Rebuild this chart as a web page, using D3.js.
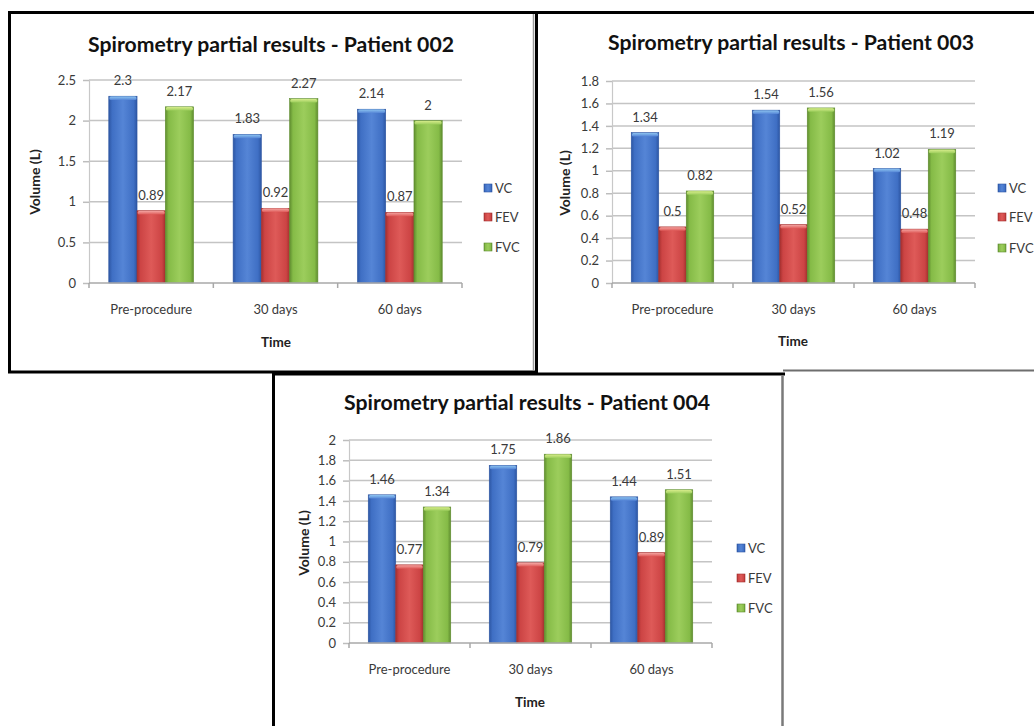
<!DOCTYPE html>
<html>
<head>
<meta charset="utf-8">
<script src="https://cdn.jsdelivr.net/npm/d3@7"></script>
<style>
  html, body { margin: 0; padding: 0; background: #ffffff; }
  svg { display: block; }
  text { font-family: Lato, "Open Sans", "DejaVu Sans", sans-serif; }
</style>
</head>
<body>
<svg id="chart" width="1034" height="726"></svg>
<script>
// ---- data -------------------------------------------------------------
const categories = ["Pre-procedure", "30 days", "60 days"];
const seriesNames = ["VC", "FEV", "FVC"];

const p002VC  = [2.3, 1.83, 2.14];
const p002FEV = [0.89, 0.92, 0.87];
const p002FVC = [2.17, 2.27, 2];

const p003VC  = [1.34, 1.54, 1.02];
const p003FEV = [0.5, 0.52, 0.48];
const p003FVC = [0.82, 1.56, 1.19];

const p004VC  = [1.46, 1.75, 1.44];
const p004FEV = [0.77, 0.79, 0.89];
const p004FVC = [1.34, 1.86, 1.51];

const ticks002 = [0, 0.5, 1, 1.5, 2, 2.5];
const ticks003 = [0, 0.2, 0.4, 0.6, 0.8, 1, 1.2, 1.4, 1.6, 1.8];
const ticks004 = [0, 0.2, 0.4, 0.6, 0.8, 1, 1.2, 1.4, 1.6, 1.8, 2];

const titles = [
  "Spirometry partial results - Patient 002",
  "Spirometry partial results - Patient 003",
  "Spirometry partial results - Patient 004"
];
const yTitle = "Volume (L)";
const xTitle = "Time";

// ---- styling ----------------------------------------------------------
const seriesColors = {
  VC:  { edge: "#2d56a3", base: "#3f6fc4", light: "#5585d6", cap: "#8cc3f0" },
  FEV: { edge: "#a5302f", base: "#cc4444", light: "#de5a58", cap: "#f3a3a0" },
  FVC: { edge: "#5f8d2f", base: "#85bb47", light: "#9ccd5c", cap: "#d6ec8a" }
};

// panel geometry (pixel layout of each chart)
const panels = [
  { values: [p002VC, p002FEV, p002FVC], ticks: ticks002, title: titles[0],
    left: 89, right: 462, top: 80, bottom: 283,
    titleX: 271, titleY: 52, legendX: 484, legendY: [188, 217, 247],
    yTitleX: 34, yTitleY: 182, catY: 314, timeX: 276, timeY: 347 },
  { values: [p003VC, p003FEV, p003FVC], ticks: ticks003, title: titles[1],
    left: 612, right: 975, top: 81, bottom: 283,
    titleX: 791, titleY: 50, legendX: 998, legendY: [188, 217, 248],
    yTitleX: 564, yTitleY: 183, catY: 314, timeX: 793, timeY: 346 },
  { values: [p004VC, p004FEV, p004FVC], ticks: ticks004, title: titles[2],
    left: 349, right: 712, top: 440, bottom: 643,
    titleX: 527, titleY: 410, legendX: 737, legendY: [548, 578, 608],
    yTitleX: 303, yTitleY: 543, catY: 674, timeX: 530, timeY: 707 }
];

const svg = d3.select("#chart");
const defs = svg.append("defs");

// bar fills: darker edges, lighter centre
seriesNames.forEach(s => {
  const c = seriesColors[s];
  const g = defs.append("linearGradient").attr("id", "grad-" + s)
    .attr("x1", 0).attr("x2", 1).attr("y1", 0).attr("y2", 0);
  [[0, c.edge], [0.12, c.base], [0.5, c.light], [0.88, c.base], [1, c.edge]]
    .forEach(([o, col]) => g.append("stop").attr("offset", o).attr("stop-color", col));
  const cg = defs.append("linearGradient").attr("id", "cap-" + s)
    .attr("x1", 0).attr("x2", 0).attr("y1", 0).attr("y2", 1);
  [[0, c.cap], [1, c.light]]
    .forEach(([o, col]) => cg.append("stop").attr("offset", o).attr("stop-color", col));
});

// ---- frames -----------------------------------------------------------
const frames = svg.append("g");
// top-left chart
frames.append("rect").attr("x", 9.5).attr("y", 12.5).attr("width", 527).attr("height", 359.5)
  .attr("fill", "none").attr("stroke", "#000").attr("stroke-width", 3);
frames.append("line").attr("x1", 533.5).attr("x2", 533.5).attr("y1", 14).attr("y2", 370)
  .attr("stroke", "#9a9a9a").attr("stroke-width", 1.5);
// top-right chart
frames.append("line").attr("x1", 536).attr("x2", 1034).attr("y1", 12.5).attr("y2", 12.5)
  .attr("stroke", "#000").attr("stroke-width", 3);
frames.append("line").attr("x1", 783).attr("x2", 1034).attr("y1", 370.5).attr("y2", 370.5)
  .attr("stroke", "#6e6e6e").attr("stroke-width", 2);
// bottom chart
frames.append("line").attr("x1", 272).attr("x2", 785).attr("y1", 374).attr("y2", 374)
  .attr("stroke", "#000").attr("stroke-width", 3);
frames.append("line").attr("x1", 273.5).attr("x2", 273.5).attr("y1", 372).attr("y2", 726)
  .attr("stroke", "#000").attr("stroke-width", 3);
frames.append("line").attr("x1", 782.5).attr("x2", 782.5).attr("y1", 375).attr("y2", 726)
  .attr("stroke", "#7a7a7a").attr("stroke-width", 2.5);

// ---- charts -----------------------------------------------------------
panels.forEach(p => {
  const g = svg.append("g");
  const maxTick = p.ticks[p.ticks.length - 1];

  const y = d3.scaleLinear().domain([0, maxTick]).range([p.bottom, p.top]);
  const x0 = d3.scaleBand().domain(categories).range([p.left, p.right]).padding(0);
  const x1 = d3.scaleBand().domain(seriesNames).range([0, x0.bandwidth()])
    .paddingInner(0).paddingOuter(0.7);

  // gridlines
  g.append("g").selectAll("line").data(p.ticks.filter(t => t > 0)).join("line")
    .attr("x1", p.left).attr("x2", p.right)
    .attr("y1", d => y(d)).attr("y2", d => y(d))
    .attr("stroke", "#c4c4c4").attr("stroke-width", 1.5);

  // y axis
  const yAxis = d3.axisLeft(y).tickValues(p.ticks).tickSize(6).tickPadding(7)
    .tickFormat(d => String(d));
  const ya = g.append("g").attr("transform", `translate(${p.left},0)`).call(yAxis);
  ya.select(".domain").attr("stroke", "#c8c8c8").attr("stroke-width", 1.2);
  ya.selectAll(".tick line").attr("stroke", "#bdbdbd").attr("stroke-width", 1.5);
  ya.selectAll(".tick text").attr("fill", "#3a3a3a").attr("font-size", "13px")
    .attr("font-family", "Lato, sans-serif");

  // bars
  seriesNames.forEach((s, si) => {
    const vals = p.values[si];
    const bg = g.append("g");
    bg.selectAll("rect.bar").data(vals).join("rect").attr("class", "bar")
      .attr("x", (d, i) => x0(categories[i]) + x1(s))
      .attr("y", d => y(d))
      .attr("width", x1.bandwidth())
      .attr("height", d => y(0) - y(d))
      .attr("fill", `url(#grad-${s})`)
      .attr("stroke", seriesColors[s].edge).attr("stroke-width", 0.6);
    bg.selectAll("rect.cap").data(vals).join("rect").attr("class", "cap")
      .attr("x", (d, i) => x0(categories[i]) + x1(s) + 0.6)
      .attr("y", d => y(d) + 0.3)
      .attr("width", x1.bandwidth() - 1.2)
      .attr("height", 3.5)
      .attr("rx", 1.5)
      .attr("fill", `url(#cap-${s})`);
    // value labels
    bg.selectAll("text").data(vals).join("text")
      .attr("x", (d, i) => x0(categories[i]) + x1(s) + x1.bandwidth() / 2)
      .attr("y", d => y(d) - 11)
      .attr("text-anchor", "middle")
      .attr("font-size", "13px").attr("fill", "#3a3a3a")
      .text(d => String(d));
  });

  // x axis
  const xAxis = d3.axisBottom(x0).tickSize(0).tickPadding(0);
  const xa = g.append("g").attr("transform", `translate(0,${p.bottom})`).call(xAxis);
  xa.select(".domain").remove();
  xa.selectAll(".tick text").remove();
  g.append("line").attr("x1", p.left).attr("x2", p.right)
    .attr("y1", p.bottom).attr("y2", p.bottom)
    .attr("stroke", "#a8a8a8").attr("stroke-width", 1.5);
  const bounds = categories.map(c => x0(c)).concat([p.right]);
  g.append("g").selectAll("line").data(bounds).join("line")
    .attr("x1", d => d).attr("x2", d => d)
    .attr("y1", p.bottom).attr("y2", p.bottom + 5)
    .attr("stroke", "#a8a8a8").attr("stroke-width", 1.5);
  g.append("g").selectAll("text").data(categories).join("text")
    .attr("x", d => x0(d) + x0.bandwidth() / 2)
    .attr("y", p.catY)
    .attr("text-anchor", "middle")
    .attr("font-size", "13px").attr("fill", "#3a3a3a")
    .text(d => d);

  // titles
  g.append("text").attr("x", p.titleX).attr("y", p.titleY)
    .attr("text-anchor", "middle").attr("font-weight", "bold")
    .attr("font-size", "21.5px").attr("fill", "#111")
    .attr("textLength", 366).attr("lengthAdjust", "spacingAndGlyphs")
    .text(p.title);
  g.append("text").attr("x", p.timeX).attr("y", p.timeY)
    .attr("text-anchor", "middle").attr("font-weight", "bold")
    .attr("font-size", "13.5px").attr("fill", "#222")
    .text(xTitle);
  g.append("text")
    .attr("transform", `translate(${p.yTitleX},${p.yTitleY}) rotate(-90)`)
    .attr("text-anchor", "middle").attr("dominant-baseline", "central")
    .attr("font-weight", "bold").attr("font-size", "14px").attr("fill", "#222")
    .text(yTitle);

  // legend
  const lg = g.append("g");
  seriesNames.forEach((s, si) => {
    lg.append("rect").attr("x", p.legendX).attr("y", p.legendY[si] - 4)
      .attr("width", 8).attr("height", 8)
      .attr("fill", `url(#grad-${s})`).attr("stroke", seriesColors[s].edge).attr("stroke-width", 0.6);
    lg.append("text").attr("x", p.legendX + 11).attr("y", p.legendY[si])
      .attr("dominant-baseline", "central")
      .attr("font-size", "13px").attr("fill", "#3a3a3a")
      .text(s);
  });
});
</script>
</body>
</html>
